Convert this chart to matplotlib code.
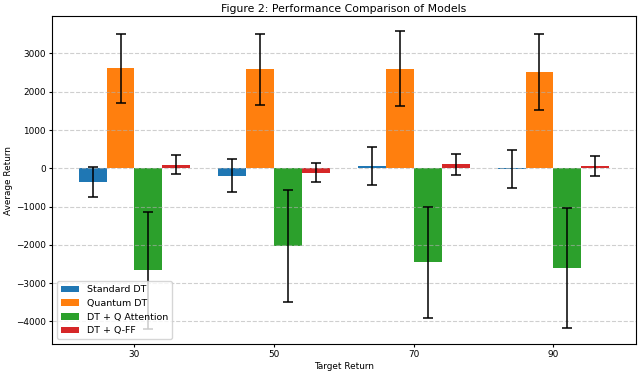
import numpy as np
import matplotlib
matplotlib.use("Agg")
import matplotlib.pyplot as plt

# Target returns (x groups)
target_returns = ["30", "50", "70", "90"]

# Mean average return per model
standard_dt = [-360, -197, 69, -21]
quantum_dt = [2610, 2592, 2601, 2511]
dt_q_attention = [-2665, -2035, -2459, -2610]
dt_q_ff = [95, -115, 103, 69]

# Standard deviations
standard_dt_std = [385, 430, 498, 494]
quantum_dt_std = [912, 930, 981, 994]
dt_q_attention_std = [1530, 1460, 1455, 1570]
dt_q_ff_std = [255, 245, 283, 266]

model_names = ["Standard DT", "Quantum DT", "DT + Q Attention", "DT + Q-FF"]
means = [standard_dt, quantum_dt, dt_q_attention, dt_q_ff]
stds = [standard_dt_std, quantum_dt_std, dt_q_attention_std, dt_q_ff_std]

fig, ax = plt.subplots(figsize=(6.4, 3.75), dpi=100)

x = np.arange(len(target_returns))
width = 0.2

for i, (name, m, s) in enumerate(zip(model_names, means, stds)):
    offset = (i - 1.5) * width
    ax.bar(x + offset, m, width, yerr=s, label=name,
           capsize=3.6, error_kw={"elinewidth": 1.1, "capthick": 1.1})

ax.set_title("Figure 2: Performance Comparison of Models", fontsize=7.8, pad=3)
ax.set_xlabel("Target Return", fontsize=6.4, labelpad=2)
ax.set_ylabel("Average Return", fontsize=6.4, labelpad=2)
ax.set_xticks(x)
ax.set_xticklabels(target_returns)
ax.tick_params(labelsize=6.4, length=2.5, pad=2)
ax.grid(axis="y", linestyle="--", alpha=0.6)
ax.legend(loc="lower left", fontsize=6.8)

plt.tight_layout(pad=0.3)
plt.savefig("out.png")
